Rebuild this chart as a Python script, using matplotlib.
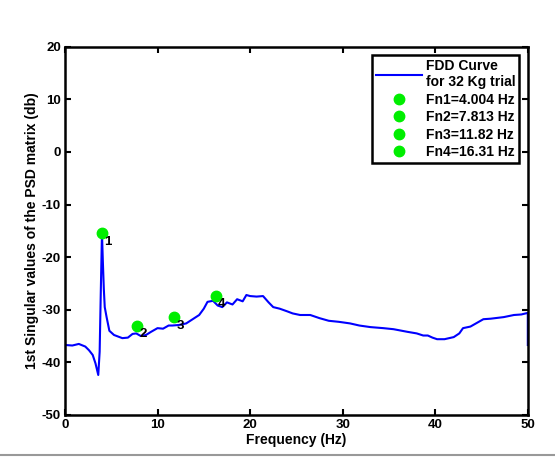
import numpy as np
import matplotlib.pyplot as plt

# valores (frequencia em Hz, valor singular em db)
freq = [0, 0, 0.8, 1.5, 2.2, 2.6, 3.0, 3.3, 3.6, 3.75, 3.87, 4.0, 4.1, 4.2, 4.3,
        4.5, 4.8, 5.3, 6.2, 6.8, 7.3, 7.7, 8.2, 8.75, 9.3, 10.0, 10.6, 11.2, 11.6,
        12.3, 13.1, 13.8, 14.5, 15.0, 15.4, 16.0, 16.5, 17.0, 17.5, 18.1, 18.6,
        19.2, 19.6, 20.0, 20.7, 21.4, 22.0, 22.5, 23.2, 24.0, 24.6, 25.4, 26.5,
        27.5, 28.5, 29.6, 30.8, 31.8, 33.0, 34.4, 35.5, 37.0, 38.0, 38.7, 39.2,
        39.7, 40.2, 41.0, 42.0, 42.6, 43.0, 43.8, 44.5, 45.2, 46.0, 47.4, 48.5,
        49.3, 50, 50]
db = [16, -36.7, -36.8, -36.5, -37.0, -37.7, -38.6, -40.2, -42.4, -38.0, -26.9,
      -15.5, -21.0, -26.0, -29.5, -31.4, -34.0, -34.8, -35.4, -35.3, -34.6, -34.5,
      -35.0, -34.8, -34.2, -33.5, -33.6, -33.0, -33.0, -32.9, -32.6, -31.8, -31.0,
      -29.8, -28.5, -28.3, -29.2, -29.5, -28.6, -29.0, -28.0, -28.4, -27.2, -27.4,
      -27.5, -27.4, -28.6, -29.5, -29.8, -30.3, -30.7, -31.0, -31.0, -31.6, -32.1,
      -32.3, -32.6, -33.0, -33.3, -33.5, -33.7, -34.2, -34.5, -34.9, -34.9, -35.3,
      -35.6, -35.6, -35.2, -34.5, -33.5, -33.2, -32.5, -31.8, -31.7, -31.4, -31.0,
      -30.9, -30.6, -36.7]

picos_f = [4.004, 7.813, 11.82, 16.31]
picos_db = [-15.4, -33.0, -31.4, -27.3]
picos_legenda = ['Fn1=4.004 Hz', 'Fn2=7.813 Hz', 'Fn3=11.82 Hz', 'Fn4=16.31 Hz']

plt.rcParams['font.family'] = ['Liberation Sans', 'DejaVu Sans']
plt.rcParams['font.weight'] = 'bold'
plt.rcParams['axes.unicode_minus'] = False

fig = plt.figure(figsize=(5.55, 4.58), dpi=100)
ax = fig.add_axes([0.117, 0.094, 0.834, 0.804])

ax.plot(freq, db, color='#0000ff', linewidth=1.5, label='FDD Curve\nfor 32 Kg trial')
for i in range(len(picos_f)):
    ax.plot(picos_f[i], picos_db[i], 'o', color='#00ee00', markersize=7.5,
            linestyle='none', label=picos_legenda[i])
    ax.text(picos_f[i] + 0.2, picos_db[i] - 0.5, str(i + 1), fontsize=9.5,
            ha='left', va='top', color='black')

ax.set_xlim(0, 50)
ax.set_ylim(-50, 20)
ax.set_xticks([0, 10, 20, 30, 40, 50])
ax.set_yticks(range(-50, 21, 10))
ax.tick_params(direction='in', top=True, right=True, length=4, width=1.5,
               labelsize=9.5, pad=3)
for s in ax.spines.values():
    s.set_linewidth(1.8)

ax.set_xlabel('Frequency (Hz)', fontsize=10, fontweight='bold', labelpad=1)
ax.set_ylabel('1st Singular values of the PSD matrix (db)', fontsize=10,
              fontweight='bold', labelpad=2)

leg = ax.legend(loc='upper right', fontsize=10, frameon=True, fancybox=False,
                handlelength=3.3, handletextpad=0.25, borderpad=0.3,
                labelspacing=0.25, numpoints=1,
                bbox_to_anchor=(0.997, 0.997))
leg.get_frame().set_edgecolor('black')
leg.get_frame().set_linewidth(1.8)
leg.get_frame().set_alpha(1)

# linha cinza no rodape
fig.add_artist(plt.Line2D([0, 1], [0.006, 0.006], color='#999999', linewidth=1.5,
                          transform=fig.transFigure))

plt.savefig('out.png', dpi=100)
